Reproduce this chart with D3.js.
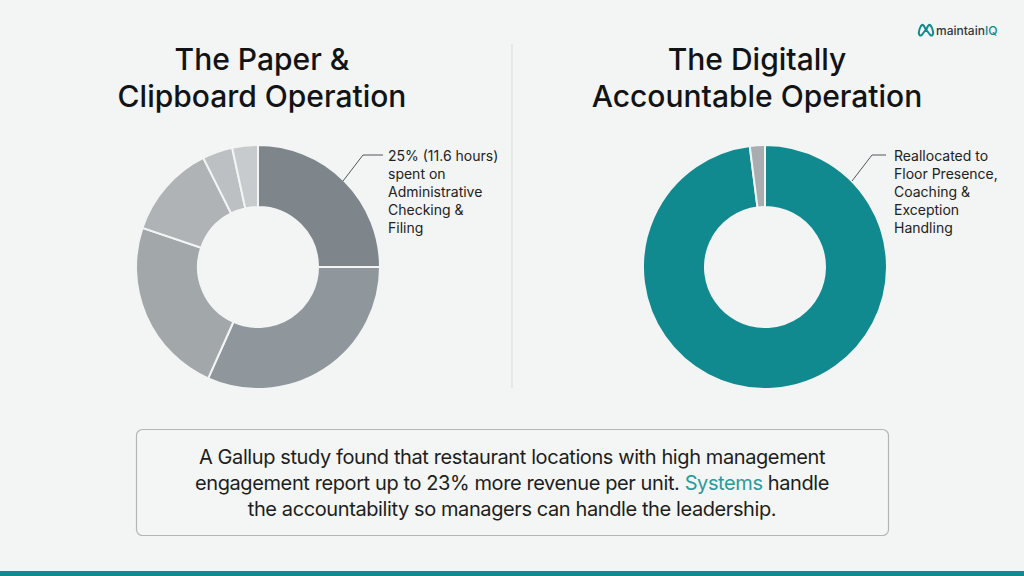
<!DOCTYPE html>
<html><head><meta charset="utf-8">
<script src="https://cdn.jsdelivr.net/npm/d3@7"></script>
<style>
html,body{margin:0;padding:0;background:#f3f4f4;}
svg{display:block;font-family:Inter,"Noto Sans",sans-serif;}
</style></head>
<body>
<svg id="c" width="1024" height="576"></svg>
<script>
const leftTitle = ["The Paper &", "Clipboard Operation"];
const rightTitle = ["The Digitally", "Accountable Operation"];
const leftValues = [25, 31.7, 23.5, 12.4, 4, 3.4];
const leftColors = ["#7e868c", "#90979c", "#a2a7aa", "#afb3b6", "#bcc0c2", "#c8cbcd"];
const rightValues = [98, 2];
const rightColors = ["#108a8f", "#a9adb0"];
const leftLabel = ["25% (11.6 hours)", "spent on", "Administrative", "Checking &", "Filing"];
const rightLabel = ["Reallocated to", "Floor Presence,", "Coaching &", "Exception", "Handling"];
const noteLines = [
  [{t:"A Gallup study found that restaurant locations with high management"}],
  [{t:"engagement report up to 23% more revenue per unit. "},{t:"Systems",c:"#2a9a9c"},{t:" handle"}],
  [{t:"the accountability so managers can handle the leadership."}]
];

const svg = d3.select("#c");
const teal = "#108a8f";

// bottom bar
svg.append("rect").attr("x",0).attr("y",571).attr("width",1024).attr("height",5).attr("fill",teal);

// divider
svg.append("line").attr("x1",512).attr("x2",512).attr("y1",44).attr("y2",388)
  .attr("stroke","#d9dcdd").attr("stroke-width",1);

// titles
function title(lines, cx){
  svg.append("text").attr("x",cx).attr("y",70).attr("text-anchor","middle")
    .attr("font-size",30).attr("font-weight",500).attr("fill","#121314")
    .selectAll("tspan").data(lines).join("tspan")
    .attr("x",cx).attr("dy",(d,i)=>i?37:0).text(d=>d);
}
title(leftTitle, 262);
title(rightTitle, 757);

// donuts
const pie = d3.pie().sort(null).value(d=>d);
function donut(vals, colors, cx, cy){
  const arc = d3.arc().innerRadius(60).outerRadius(122);
  const g = svg.append("g").attr("transform",`translate(${cx},${cy})`);
  g.selectAll("path").data(pie(vals)).join("path")
    .attr("d",arc).attr("fill",(d,i)=>colors[i])
    .attr("stroke","#f3f4f4").attr("stroke-width",2);
  return arc;
}
donut(leftValues, leftColors, 258, 267);
donut(rightValues, rightColors, 765, 267);

// callouts
function callout(pts, x, y, lines){
  svg.append("path").attr("d",d3.line()(pts)).attr("fill","none")
    .attr("stroke","#4f585d").attr("stroke-width",1);
  svg.append("text").attr("x",x).attr("y",y).attr("font-size",14).attr("fill","#222")
    .selectAll("tspan").data(lines).join("tspan")
    .attr("x",x).attr("dy",(d,i)=>i?18:0).text(d=>d);
}
callout([[343,181],[363,155],[383,155]], 388, 161, leftLabel);
callout([[852,181],[872,155],[886,155]], 894, 161, rightLabel);

// note box
svg.append("rect").attr("x",136.5).attr("y",429.5).attr("width",752).attr("height",106).attr("rx",6)
  .attr("fill","#f4f5f5").attr("stroke","#b3b6b8").attr("stroke-width",1.2);
const nt = svg.append("g");
noteLines.forEach((ln,i)=>{
  const t = nt.append("text").attr("x",512).attr("y",464+i*26).attr("text-anchor","middle")
    .attr("font-size",20).attr("fill","#1c1e20").attr("letter-spacing",-0.4);
  ln.forEach(s=>t.append("tspan").attr("fill",s.c||"#1c1e20").text(s.t));
});

// logo
const lg = svg.append("g").attr("transform","translate(918,23)");
lg.append("path").attr("d","M1.5,12 Q0,10 2,5 Q4,0 6,3 L8,7 L10,3 Q12,0 14,5 Q16,10 14.5,12 Q13,13.5 11.5,11 L8,6.5 L4.5,11 Q3,13.5 1.5,12 Z")
  .attr("fill","none").attr("stroke",teal).attr("stroke-width",2).attr("stroke-linejoin","round");
const lt = lg.append("text").attr("x",18).attr("y",12).attr("font-size",12).attr("font-weight",500).attr("fill","#33383c");
lt.append("tspan").text("maintain");
lt.append("tspan").attr("fill",teal).text("IQ");
</script>
</body></html>
